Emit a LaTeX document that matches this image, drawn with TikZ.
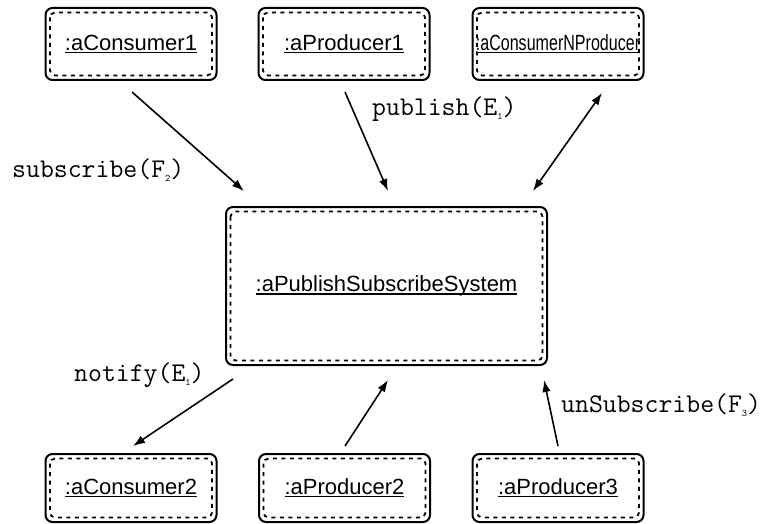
\documentclass[tikz,border=0pt]{standalone}
\usepackage{fontspec}
\usepackage{graphicx}
\setmainfont{Liberation Sans}
\usetikzlibrary{arrows.meta}

\newcommand\uname[1]{\setbox0\hbox{#1}\rlap{\rule[-3pt]{\wd0}{1.5pt}}\box0}
\newcommand\lowsub[1]{\raisebox{-0.35ex}{\fontsize{10}{10}\selectfont #1}}

\begin{document}
\begin{tikzpicture}[x=1pt,y=-1pt,
    obj/.style={draw,line width=2pt,rounded corners=7pt,minimum width=171pt,minimum height=72pt,inner sep=0pt,font=\fontsize{22}{26}\selectfont},
    objin/.style={dash pattern=on 4pt off 4.5pt,line width=1.8pt,rounded corners=5pt},
    msg/.style={line width=1.6pt},
    msglabel/.style={font=\ttfamily\fontsize{27}{30}\selectfont,inner sep=0pt,anchor=west},
    >={Latex[length=12pt,width=8.5pt]}]
    \useasboundingbox (0,0) rectangle (768,524);

    % objects
    \node[obj] (c1) at (131,44) {\uname{:aConsumer1}};
    \node[obj] (p1) at (344,44) {\uname{:aProducer1}};
    \node[obj] (cnp) at (558,44) {\uname{\scalebox{0.73}[1]{:aConsumerNProducer}}};
    \node[obj,minimum width=321pt,minimum height=158pt] (sys) at (386.5,286) {\uname{:aPublishSubscribeSystem}};
    \node[obj,minimum height=68pt] (c2) at (131,488) {\uname{:aConsumer2}};
    \node[obj,minimum height=68pt] (p2) at (344.5,488) {\uname{:aProducer2}};
    \node[obj,minimum height=68pt] (p3) at (558,488) {\uname{:aProducer3}};
    \foreach \n in {c1,p1,cnp,sys,c2,p2,p3}
        \draw[objin] ([shift={(5.5,5.5)}]\n.north west) rectangle ([shift={(-5.5,-5.5)}]\n.south east);

    % messages
    \draw[msg,->] ([shift={(1,11)}]c1.south) -- ([shift={(19,-15)}]sys.north west);
    \draw[msg,->] ([shift={(1,11)}]p1.south) -- ([shift={(1.5,-15)}]sys.north);
    \draw[msg,<->] ([shift={(44,12)}]cnp.south) -- ([shift={(-15,-15)}]sys.north east);
    \draw[msg,->] ([shift={(8,13)}]sys.south west) -- ([shift={(2,-7)}]c2.north);
    \draw[msg,->] ([shift={(0.5,-7)}]p2.north) -- ([shift={(1.5,14)}]sys.south);
    \draw[msg,->] ([shift={(0,-7)}]p3.north) -- ([shift={(-4,14)}]sys.south east);

    \node[msglabel] (lsub) at (12,170) {subscribe(F\lowsub{2})};
    \node[msglabel] (lpub) at (372,109) {publish(E\lowsub{1})};
    \node[msglabel] (lnot) at (74,375) {notify(E\lowsub{1})};
    \node[msglabel] (lunsub) at (561,405) {unSubscribe(F\lowsub{3})};
\end{tikzpicture}
\end{document}
